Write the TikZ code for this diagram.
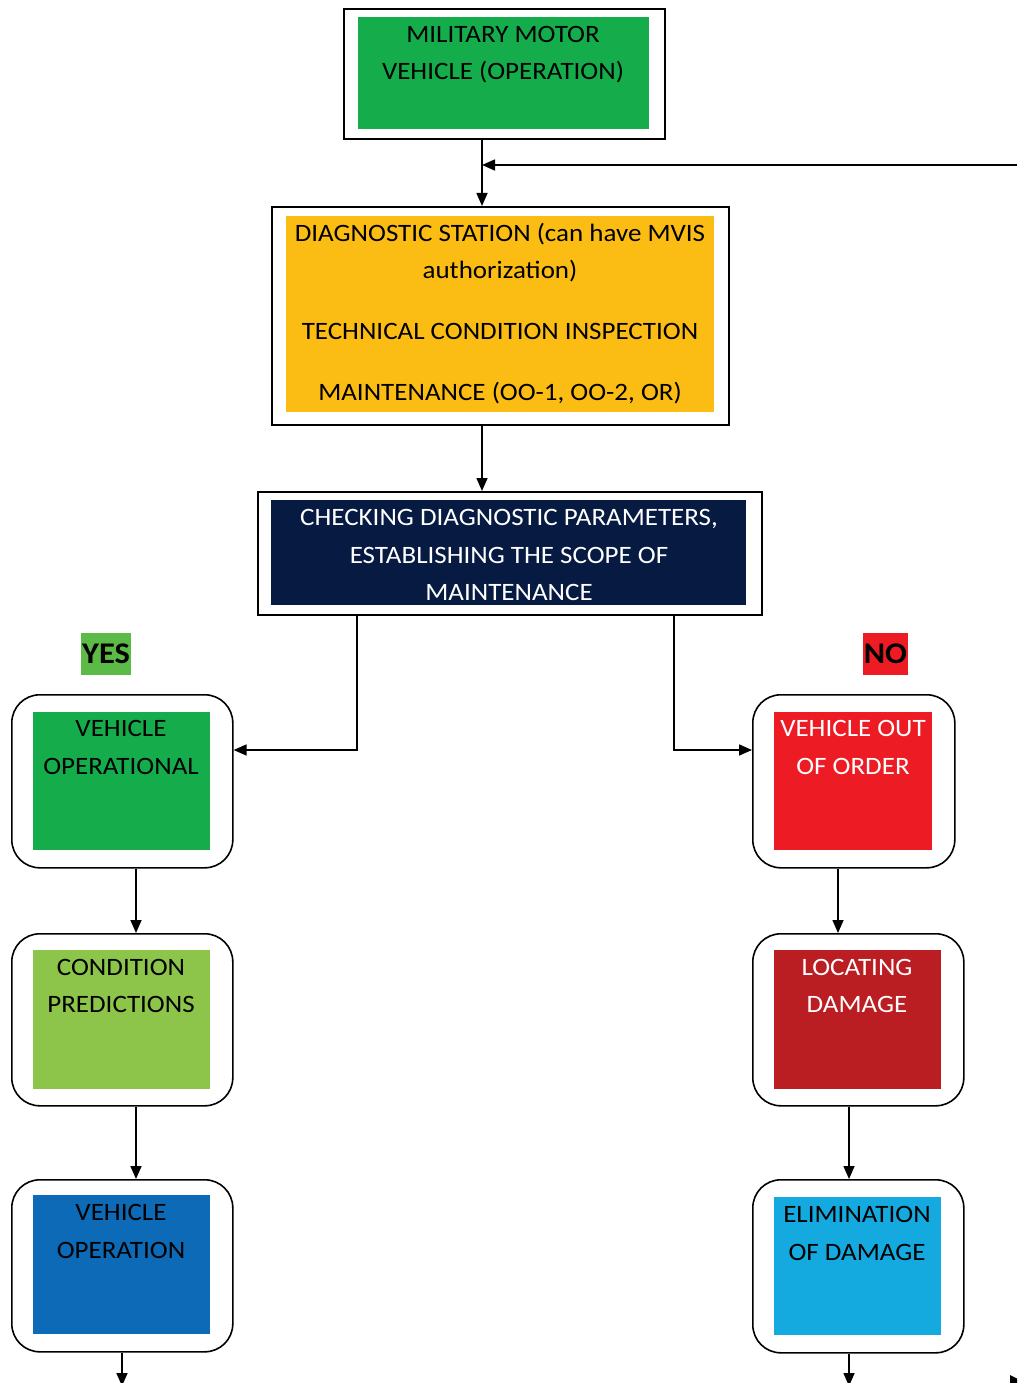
\documentclass[tikz,border=0pt]{standalone}
\usepackage{fontspec}
\setmainfont{Carlito}[FakeStretch=1.08]
\usetikzlibrary{arrows.meta}
\definecolor{cgreen}{HTML}{15AD4B}
\definecolor{corange}{HTML}{FBBC14}
\definecolor{cnavy}{HTML}{061A42}
\definecolor{cyes}{HTML}{5CBB46}
\definecolor{cred}{HTML}{ED1C24}
\definecolor{clgreen}{HTML}{8DC54A}
\definecolor{cblue}{HTML}{0D6AB6}
\definecolor{cdred}{HTML}{BA1D22}
\definecolor{clblue}{HTML}{14AAE0}
\tikzset{
  outerbox/.style={draw=black, line width=1.6pt, inner sep=0pt, anchor=north west, fill=white},
  roundbox/.style={outerbox, rounded corners=28pt},
  fillbox/.style={inner sep=0pt, anchor=north west, draw=none},
  txt/.style={inner sep=0pt, anchor=base, font=\fontsize{25}{30}\selectfont},
  lbl/.style={inner sep=0pt, font=\fontsize{30}{32}\selectfont\bfseries, minimum height=42pt},
  arr/.style={line width=1.6pt, -{Triangle[length=13pt,width=11pt]}},
}
\begin{document}
\begin{tikzpicture}[x=1pt,y=-1pt]
\useasboundingbox (0,0) rectangle (1017,1383);
\clip (0,0) rectangle (1017,1383);
% top box
\node[outerbox, minimum width=321pt, minimum height=130pt] (mmv) at (343,8) {};
\node[fillbox, fill=cgreen, minimum width=291pt, minimum height=112pt] (mmvf) at (358,17) {};
\node[txt] (t1) at (503,43) {MILITARY MOTOR};
\node[txt] (t2) at (503,80) {VEHICLE (OPERATION)};
% diagnostic
\node[outerbox, minimum width=457pt, minimum height=218pt] (diag) at (271,206) {};
\node[fillbox, fill=corange, minimum width=428pt, minimum height=196pt] (diagf) at (286,216) {};
\node[txt] (d1) at (500,241) {DIAGNOSTIC STATION (can have MVIS};
\node[txt] (d2) at (500,278) {authorization)};
\node[txt] (d3) at (500,339) {TECHNICAL CONDITION INSPECTION};
\node[txt] (d4) at (500,400) {MAINTENANCE (OO-1, OO-2, OR)};
% checking
\node[outerbox, minimum width=504pt, minimum height=123pt] (chk) at (257,491) {};
\node[fillbox, fill=cnavy, minimum width=475pt, minimum height=105pt] (chkf) at (271,500) {};
\node[txt, text=white] (c1t) at (509,525) {CHECKING DIAGNOSTIC PARAMETERS,};
\node[txt, text=white] (c2t) at (509,563) {ESTABLISHING THE SCOPE OF};
\node[txt, text=white] (c3t) at (509,600) {MAINTENANCE};
% YES / NO
\node[lbl, fill=cyes, minimum width=50pt] (yes) at (106,654) {YES};
\node[lbl, fill=cred, minimum width=45pt] (no) at (885.5,654) {NO};
% left column
\node[roundbox, minimum width=221pt, minimum height=173pt] (op) at (11,694) {};
\node[fillbox, fill=cgreen, minimum width=177pt, minimum height=138pt] (opf) at (33,712) {};
\node[txt] (o1) at (121,736) {VEHICLE};
\node[txt] (o2) at (121,774) {OPERATIONAL};
\node[roundbox, minimum width=221pt, minimum height=172pt] (cp) at (11,933) {};
\node[fillbox, fill=clgreen, minimum width=177pt, minimum height=139pt] (cpf) at (33,950) {};
\node[txt] (p1) at (121,975) {CONDITION};
\node[txt] (p2) at (121,1012) {PREDICTIONS};
\node[roundbox, minimum width=221pt, minimum height=172pt] (vo) at (11,1179) {};
\node[fillbox, fill=cblue, minimum width=177pt, minimum height=139pt] (vof) at (33,1195) {};
\node[txt] (v1) at (121,1220) {VEHICLE};
\node[txt] (v2) at (121,1258) {OPERATION};
% right column
\node[roundbox, minimum width=202pt, minimum height=173pt] (oo) at (752,694) {};
\node[fillbox, fill=cred, minimum width=158pt, minimum height=138pt] (oof) at (774,712) {};
\node[txt, text=white] (r1) at (853,736) {VEHICLE OUT};
\node[txt, text=white] (r2) at (853,774) {OF ORDER};
\node[roundbox, minimum width=211pt, minimum height=172pt] (ld) at (752,933) {};
\node[fillbox, fill=cdred, minimum width=167pt, minimum height=139pt] (ldf) at (774,950) {};
\node[txt, text=white] (l1) at (857,975) {LOCATING};
\node[txt, text=white] (l2) at (857,1012) {DAMAGE};
\node[roundbox, minimum width=211pt, minimum height=173pt] (ed) at (752,1179) {};
\node[fillbox, fill=clblue, minimum width=167pt, minimum height=138pt] (edf) at (774,1197) {};
\node[txt] (e1) at (857,1222) {ELIMINATION};
\node[txt] (e2) at (857,1260) {OF DAMAGE};
% connectors
\coordinate (xa) at (482,0);
\coordinate (fb) at (1017,165);
\coordinate (xl) at (357,0);
\coordinate (xr) at (674,0);
\coordinate (yb) at (0,750);
\coordinate (xl1) at (136,0);
\coordinate (xl2) at (122,0);
\coordinate (xr1) at (838,0);
\coordinate (xr2) at (849,0);
\coordinate (bot) at (0,1386);
\coordinate (brt) at (1022,1381);
\draw[arr] (mmv.south -| xa) -- (diag.north -| xa);
\draw[arr] (fb) -- (fb -| xa);
\draw[arr] (diag.south -| xa) -- (chk.north -| xa);
\draw[arr] (chk.south -| xl) -- (xl |- yb) -- (op.east |- yb);
\draw[arr] (chk.south -| xr) -- (xr |- yb) -- (oo.west |- yb);
\draw[arr] (op.south -| xl1) -- (cp.north -| xl1);
\draw[arr] (cp.south -| xl1) -- (vo.north -| xl1);
\draw[arr] (vo.south -| xl2) -- (bot -| xl2);
\draw[arr] (oo.south -| xr1) -- (ld.north -| xr1);
\draw[arr] (ld.south -| xr2) -- (ed.north -| xr2);
\draw[arr] (ed.south -| xr2) -- (bot -| xr2);
\fill (brt) -- ++(-12,-6) -- ++(0,12) -- cycle;
\end{tikzpicture}
\end{document}
